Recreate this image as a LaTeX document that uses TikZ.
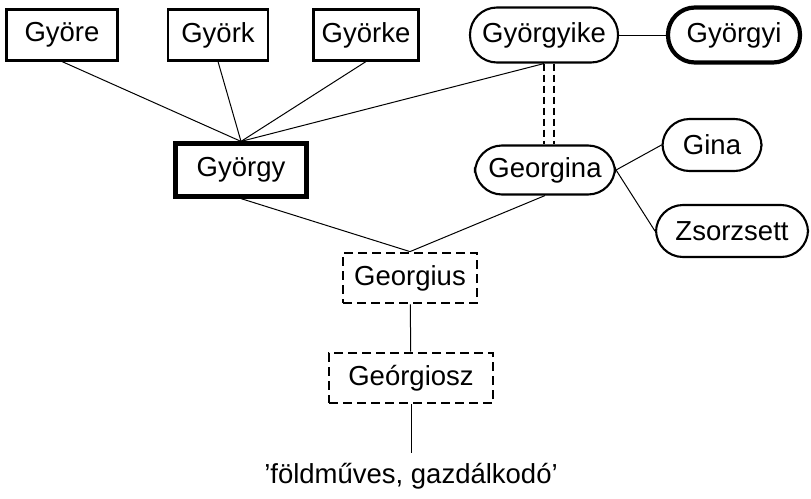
\documentclass[tikz,border=0pt]{standalone}
\usepackage{fontspec}
\setmainfont{Liberation Sans}
\usetikzlibrary{positioning}

\begin{document}
\begin{tikzpicture}[x=1pt,y=1pt]
  \tikzstyle{every node}=[font=\fontsize{27.5}{31}\selectfont,inner sep=0,minimum height=51]
  \tikzstyle{namebox}=[draw,rectangle,line width=2.1]
  \tikzstyle{pet}=[draw,rectangle,rounded corners=27,line width=2.1]
  \tikzstyle{main}=[line width=4.2]
  \tikzstyle{guess}=[line width=2.8,dash pattern=on 9 off 5]
  \tikzstyle{link}=[line width=1]
  \tikzstyle{same}=[line width=1.7,dash pattern=on 7 off 4]
  {
    \useasboundingbox (0,0) rectangle (811,-498);

    \node[namebox,minimum width=111] (gyore) at (62,-35) {Györe};
    \node[namebox,minimum width=100] (gyork) at (218,-35) {Györk};
    \node[namebox,minimum width=105] (gyorke) at (366,-35) {Györke};
    \node[pet,minimum width=148,minimum height=55] (gyorgyike) at (544,-35) {Györgyike};
    \node[pet,main,minimum width=132,minimum height=55] (gyorgyi) at (734,-35) {Györgyi};

    \node[namebox,main,minimum width=131,minimum height=53] (gyorgy) at (241,-170) {György};
    \node[pet,minimum width=140,minimum height=49] (georgina) at (545,-170) {Georgina};
    \node[pet,minimum width=99,minimum height=52] (gina) at (712,-145) {Gina};
    \node[pet,minimum width=152,minimum height=52] (zsorzsett) at (732,-231) {Zsorzsett};

    \node[namebox,guess,minimum width=134,minimum height=50] (georgius) at (410,-278) {Georgius};
    \node[namebox,guess,minimum width=164,minimum height=50] (georgiosz) at (411,-378) {Geórgiosz};
    \node[minimum height=0] (meaning) at (411,-476) {’földműves, gazdálkodó’};
    \coordinate (stem) at (411,-453);

    \path[link]
      (gyore.south) edge (gyorgy.north)
      (gyork.south) edge (gyorgy.north)
      (gyorke.south) edge (gyorgy.north)
      (gyorgyike.south) edge (gyorgy.north)
      (gyorgyike) edge (gyorgyi)
      (georgina.east) edge (gina.west)
      (georgina.east) edge (zsorzsett.west)
      (gyorgy.south) edge (georgius.north)
      (georgina.south) edge (georgius.north)
      (georgius) edge (georgiosz)
      (georgiosz) edge (stem);

    \draw[same] (gyorgyike.south) -- (georgina.north -| gyorgyike.south);
    \draw[same] ([xshift=10]gyorgyike.south) -- ([xshift=10]georgina.north -| gyorgyike.south);
  }
\end{tikzpicture}
\end{document}
